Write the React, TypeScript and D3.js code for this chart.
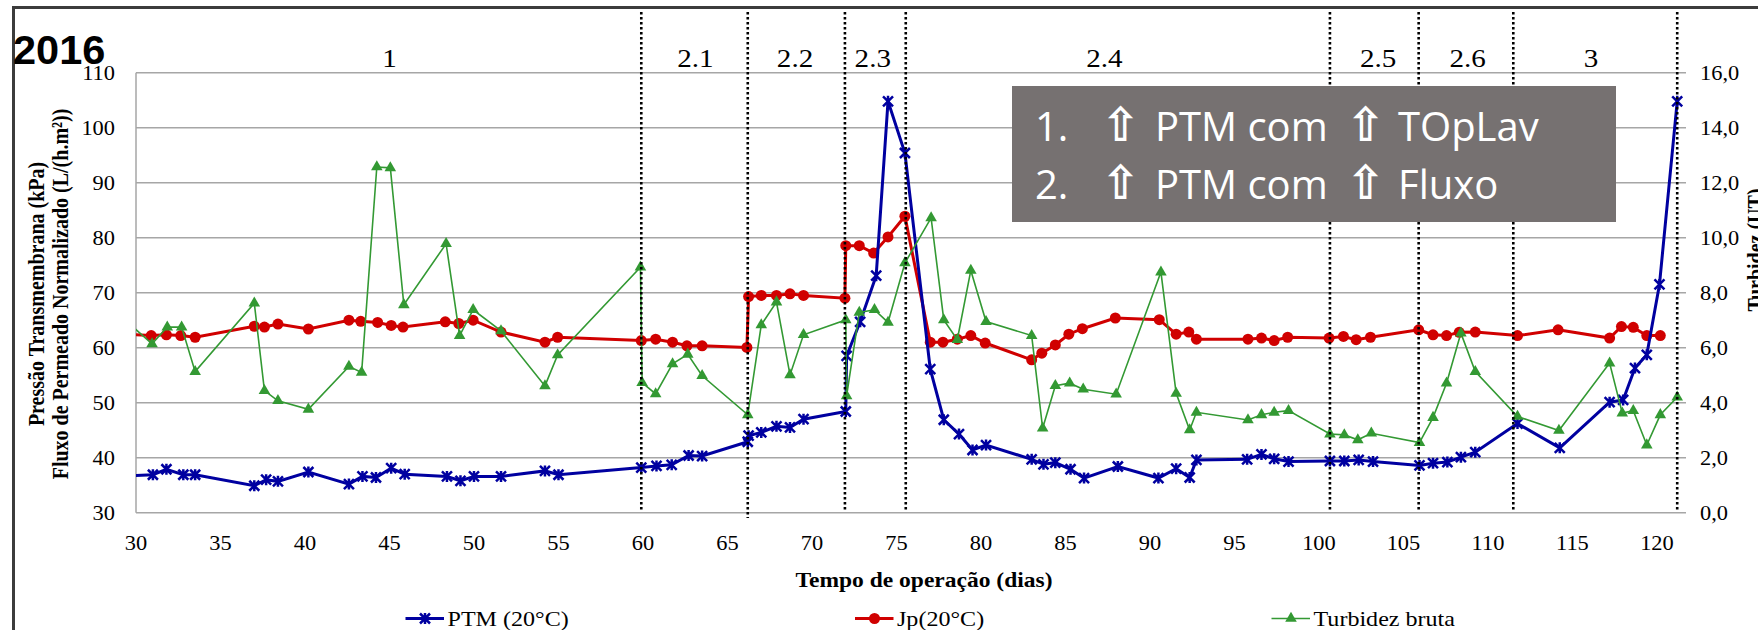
import React, { useEffect, useRef } from 'react';
import * as d3 from 'd3';

const width = 1758;
const height = 630;

// [dia, PTM kPa]
const ptm: [number, number][] = [
  [29, 36.6], [31.0, 36.9], [31.8, 37.9], [32.8, 36.9], [33.5, 36.9], [37.0, 34.9], [37.7, 36.0],
  [38.4, 35.7], [40.2, 37.4], [42.6, 35.2], [43.4, 36.6], [44.2, 36.4], [45.1, 38.1], [45.9, 37.0],
  [48.4, 36.6], [49.2, 35.8], [50.0, 36.6], [51.6, 36.6], [54.2, 37.6], [55.0, 36.9], [59.9, 38.2],
  [60.8, 38.5], [61.7, 38.7], [62.7, 40.4], [63.5, 40.3], [66.2, 42.9], [66.25, 44.0], [67.0, 44.6],
  [67.9, 45.7], [68.7, 45.5], [69.5, 47.0], [72.0, 48.4], [72.05, 58.5], [72.85, 64.7], [73.8, 73.1],
  [74.5, 104.8], [75.5, 95.4], [77.0, 56.1], [77.8, 46.9], [78.7, 44.3], [79.5, 41.4], [80.3, 42.3],
  [83.0, 39.7], [83.7, 38.8], [84.4, 39.1], [85.3, 37.9], [86.1, 36.3], [88.1, 38.4], [90.5, 36.3],
  [91.55, 38.0], [92.35, 36.4], [92.75, 39.6], [95.75, 39.7], [96.6, 40.6], [97.35, 39.8], [98.2, 39.3],
  [100.65, 39.4], [101.5, 39.4], [102.35, 39.6], [103.2, 39.3], [105.95, 38.6], [106.75, 39.0],
  [107.6, 39.2], [108.4, 40.1], [109.25, 41.0], [111.75, 46.2], [114.25, 41.8], [117.2, 50.1],
  [118.0, 50.5], [118.7, 56.3], [119.4, 58.7], [120.15, 71.5], [121.2, 104.8],
];

// [dia, Jp L/(h.m2)]
const jp: [number, number][] = [
  [29, 62.5], [30.9, 62.2], [31.8, 62.35], [32.65, 62.2], [33.5, 61.9], [37.0, 63.9], [37.6, 63.75],
  [38.4, 64.3], [40.2, 63.4], [42.6, 65.0], [43.3, 64.8], [44.3, 64.6], [45.1, 64.05], [45.8, 63.75],
  [48.3, 64.7], [49.1, 64.4], [49.95, 65.0], [51.6, 62.85], [54.2, 61.0], [54.95, 61.9], [59.9, 61.3],
  [60.75, 61.55], [61.75, 61.0], [62.6, 60.35], [63.5, 60.35], [66.15, 60.05], [66.25, 69.3],
  [67.0, 69.5], [67.9, 69.5], [68.7, 69.8], [69.5, 69.5], [71.95, 69.0], [72.0, 78.55], [72.8, 78.55],
  [73.65, 77.2], [74.5, 80.15], [75.5, 83.9], [77.0, 61.0], [77.75, 61.0], [78.6, 61.55], [79.4, 62.2],
  [80.25, 60.85], [83.0, 57.8], [83.6, 59.0], [84.4, 60.5], [85.2, 62.45], [86.0, 63.45], [87.95, 65.4],
  [90.55, 65.1], [91.55, 62.45], [92.3, 62.85], [92.75, 61.55], [95.8, 61.55], [96.6, 61.75],
  [97.35, 61.3], [98.15, 61.9], [100.6, 61.75], [101.45, 62.05], [102.2, 61.45], [103.05, 61.9],
  [105.9, 63.25], [106.75, 62.35], [107.55, 62.2], [108.3, 62.8], [109.25, 62.85], [111.75, 62.2],
  [114.15, 63.25], [117.2, 61.75], [117.9, 63.85], [118.6, 63.7], [119.4, 62.2], [120.2, 62.2],
];

// [dia, turbidez UT]
const turbidez: [number, number][] = [
  [29, 7.2], [30.95, 6.14], [31.85, 6.75], [32.7, 6.75], [33.5, 5.13], [37.0, 7.62], [37.6, 4.44],
  [38.4, 4.07], [40.2, 3.76], [42.6, 5.32], [43.35, 5.1], [44.25, 12.57], [45.05, 12.54], [45.85, 7.56],
  [48.35, 9.78], [49.15, 6.44], [49.95, 7.38], [51.6, 6.61], [54.2, 4.61], [54.95, 5.74], [59.85, 8.93],
  [59.95, 4.73], [60.75, 4.32], [61.75, 5.41], [62.65, 5.76], [63.5, 4.98], [66.2, 3.56], [67.0, 6.83],
  [67.9, 7.66], [68.7, 5.01], [69.5, 6.47], [72.0, 7.01], [72.05, 4.25], [72.8, 7.28], [73.7, 7.38],
  [74.5, 6.92], [75.5, 9.08], [77.05, 10.72], [77.8, 7.01], [78.6, 6.29], [79.4, 8.81], [80.3, 6.95],
  [83.0, 6.44], [83.65, 3.07], [84.4, 4.62], [85.25, 4.71], [86.05, 4.49], [88.0, 4.31], [90.65, 8.75],
  [91.55, 4.34], [92.35, 3.01], [92.75, 3.65], [95.8, 3.37], [96.6, 3.56], [97.35, 3.65], [98.2, 3.71],
  [100.65, 2.86], [101.5, 2.83], [102.3, 2.65], [103.1, 2.89], [105.95, 2.55], [106.75, 3.46],
  [107.55, 4.71], [108.4, 6.53], [109.25, 5.13], [111.75, 3.5], [114.2, 2.99], [117.2, 5.44],
  [117.95, 3.62], [118.6, 3.71], [119.4, 2.46], [120.2, 3.56], [121.2, 4.2],
];

const xTicks = [30, 35, 40, 45, 50, 55, 60, 65, 70, 75, 80, 85, 90, 95, 100, 105, 110, 115, 120];
const leftTicks = [30, 40, 50, 60, 70, 80, 90, 100, 110];
const rightTicks = [0, 2, 4, 6, 8, 10, 12, 14, 16];

const phaseBounds = [59.9, 66.2, 71.95, 75.55, 100.65, 105.9, 111.5, 121.2];
const phaseLabels = ['1', '2.1', '2.2', '2.3', '2.4', '2.5', '2.6', '3'];
const phaseLabelDays = [45, 63.1, 69.0, 73.6, 87.3, 103.5, 108.8, 116.1];

const legendLabels = ['PTM (20°C)', 'Jp(20°C)', 'Turbidez bruta'];
const noteLines = [
  { num: '1.', a: 'PTM com', b: 'TOpLav' },
  { num: '2.', a: 'PTM com', b: 'Fluxo' },
];

const BLUE = '#0000a0';
const RED = '#d00000';
const GREEN = '#339933';
const GRID = '#a6a6a6';
const SERIF = '"Liberation Serif", "Times New Roman", serif';
const SX = 1.12; // chart text is stretched horizontally

const App: React.FC = () => {
  const ref = useRef<SVGSVGElement>(null);

  useEffect(() => {
    if (!ref.current) return;
    const svg = d3.select(ref.current);
    svg.selectAll('*').remove();

    const left = 136;
    const right = 1686;
    const top = 72.7;
    const bottom = 512.7;

    const x = d3.scaleLinear().domain([30, 121.72]).range([left, right]);
    const yL = d3.scaleLinear().domain([30, 110]).range([bottom, top]);
    const yR = d3.scaleLinear().domain([0, 16]).range([bottom, top]);

    const text = (
      g: d3.Selection<any, unknown, null, undefined>,
      tx: number,
      ty: number,
      s: string,
      size: number,
      anchor = 'middle',
      weight = 'normal',
      rot = 0,
    ) =>
      g
        .append('text')
        .attr('transform', `translate(${tx},${ty}) scale(${SX},1)${rot ? ` rotate(${rot})` : ''}`)
        .attr('text-anchor', anchor)
        .attr('font-family', SERIF)
        .attr('font-size', size)
        .attr('font-weight', weight)
        .attr('fill', '#000')
        .text(s);

    // outer frame (top + left visible)
    svg.append('line').attr('x1', 12).attr('x2', width).attr('y1', 7.5).attr('y2', 7.5)
      .attr('stroke', '#3c3c3c').attr('stroke-width', 3);
    svg.append('line').attr('x1', 13.5).attr('x2', 13.5).attr('y1', 6).attr('y2', height)
      .attr('stroke', '#3c3c3c').attr('stroke-width', 3);

    // gridlines
    svg.append('g').selectAll('line').data(leftTicks).enter().append('line')
      .attr('x1', left).attr('x2', right)
      .attr('y1', d => yL(d)).attr('y2', d => yL(d))
      .attr('stroke', GRID).attr('stroke-width', 1.5);
    svg.append('line').attr('x1', left).attr('x2', left).attr('y1', top).attr('y2', bottom)
      .attr('stroke', GRID).attr('stroke-width', 1.5);

    // tick labels
    const tl = svg.append('g');
    leftTicks.forEach(t => text(tl, 115, yL(t) + 7, String(t), 20, 'end'));
    rightTicks.forEach(t => text(tl, 1700, yR(t) + 7, t.toFixed(1).replace('.', ','), 20, 'start'));
    xTicks.forEach(t => text(tl, x(t), 550, String(t), 20, 'middle'));

    // axis titles
    text(svg as any, 44, 294, 'Pressão Transmembrana (kPa)', 20, 'middle', 'bold', -90);
    text(svg as any, 68, 294, 'Fluxo de Permeado Normalizado  (L/(h.m²))', 20, 'middle', 'bold', -90);
    text(svg as any, 1763, 250, 'Turbidez (UT)', 20, 'middle', 'bold', -90);
    text(svg as any, 924, 587, 'Tempo de operação (dias)', 21, 'middle', 'bold');

    // phase labels
    phaseLabels.forEach((p, i) => text(svg as any, x(phaseLabelDays[i]), 67, p, 26, 'middle'));

    // series
    svg.append('clipPath').attr('id', 'plotClip').append('rect')
      .attr('x', left).attr('y', 40).attr('width', right - left + 10).attr('height', bottom - 40 + 10);
    const plot = svg.append('g').attr('clip-path', 'url(#plotClip)');

    const lineL = d3.line<[number, number]>().x(d => x(d[0])).y(d => yL(d[1]));
    const lineR = d3.line<[number, number]>().x(d => x(d[0])).y(d => yR(d[1]));

    plot.append('path').attr('d', lineL(jp)).attr('fill', 'none').attr('stroke', RED).attr('stroke-width', 3);
    plot.append('g').selectAll('circle').data(jp).enter().append('circle')
      .attr('cx', d => x(d[0])).attr('cy', d => yL(d[1])).attr('r', 5.5).attr('fill', RED);

    const starPath = 'M-5,-5L5,5M-5,5L5,-5M0,-5.5L0,5.5';
    plot.append('path').attr('d', lineL(ptm)).attr('fill', 'none').attr('stroke', BLUE).attr('stroke-width', 3);
    plot.append('g').selectAll('path').data(ptm).enter().append('path')
      .attr('transform', d => `translate(${x(d[0])},${yL(d[1])})`)
      .attr('d', starPath).attr('stroke', BLUE).attr('stroke-width', 2.5).attr('fill', 'none');

    const tri = d3.symbol().type(d3.symbolTriangle).size(58)();
    plot.append('path').attr('d', lineR(turbidez)).attr('fill', 'none').attr('stroke', GREEN).attr('stroke-width', 1.6);
    plot.append('g').selectAll('path').data(turbidez).enter().append('path')
      .attr('transform', d => `translate(${x(d[0])},${yR(d[1])})`)
      .attr('d', tri).attr('fill', GREEN);

    // phase boundaries
    svg.append('g').selectAll('line').data(phaseBounds).enter().append('line')
      .attr('x1', d => x(d)).attr('x2', d => x(d))
      .attr('y1', 12).attr('y2', (d, i) => (i === 1 ? 518 : 511))
      .attr('stroke', '#000').attr('stroke-width', 2.6).attr('stroke-dasharray', '2.6 2.4');

    // legend
    const lg = svg.append('g');
    const legendX = [405.5, 855, 1271.5];
    const colors = [BLUE, RED, GREEN];
    legendLabels.forEach((lab, i) => {
      const lx = legendX[i];
      lg.append('line').attr('x1', lx).attr('x2', lx + 38.5).attr('y1', 618.5).attr('y2', 618.5)
        .attr('stroke', colors[i]).attr('stroke-width', i === 2 ? 1.6 : 3);
      const mx = lx + 19.5;
      if (i === 0) {
        lg.append('path').attr('transform', `translate(${mx},618.5)`).attr('d', starPath)
          .attr('stroke', BLUE).attr('stroke-width', 2.5).attr('fill', 'none');
      } else if (i === 1) {
        lg.append('circle').attr('cx', mx).attr('cy', 618.5).attr('r', 5.5).attr('fill', RED);
      } else {
        lg.append('path').attr('transform', `translate(${mx},618.5)`).attr('d', tri).attr('fill', GREEN);
      }
      text(lg, lx + 42, 626, lab, 21.5, 'start');
    });

    // "2016"
    svg.append('text').attr('x', 13).attr('y', 63.5)
      .attr('font-family', '"Liberation Sans", Arial, sans-serif')
      .attr('font-weight', 'bold').attr('font-size', 41.5).attr('fill', '#000').text('2016');

    // annotation box
    const box = svg.append('g');
    box.append('rect').attr('x', 1012).attr('y', 86).attr('width', 604).attr('height', 136).attr('fill', '#767171');
    noteLines.forEach((n, i) => {
      const by = 140.5 + i * 58;
      const t = box.append('text').attr('y', by).attr('fill', '#fff')
        .attr('font-family', '"Open Sans", "Noto Sans", sans-serif').attr('font-size', 40);
      t.append('tspan').attr('x', 1035).text(n.num);
      t.append('tspan').attr('x', 1101).attr('font-family', '"DejaVu Sans"').attr('font-weight', 'bold')
        .attr('font-size', 47).text('⇧');
      t.append('tspan').attr('x', 1155).text(n.a);
      t.append('tspan').attr('x', 1346).attr('font-family', '"DejaVu Sans"').attr('font-weight', 'bold')
        .attr('font-size', 47).text('⇧');
      t.append('tspan').attr('x', 1398).text(n.b);
    });
  }, []);

  return (
    <div style={{ position: 'absolute', top: 0, left: 0 }}>
      <svg ref={ref} width={width} height={height} style={{ display: 'block', background: '#fff' }} />
    </div>
  );
};

export default App;
